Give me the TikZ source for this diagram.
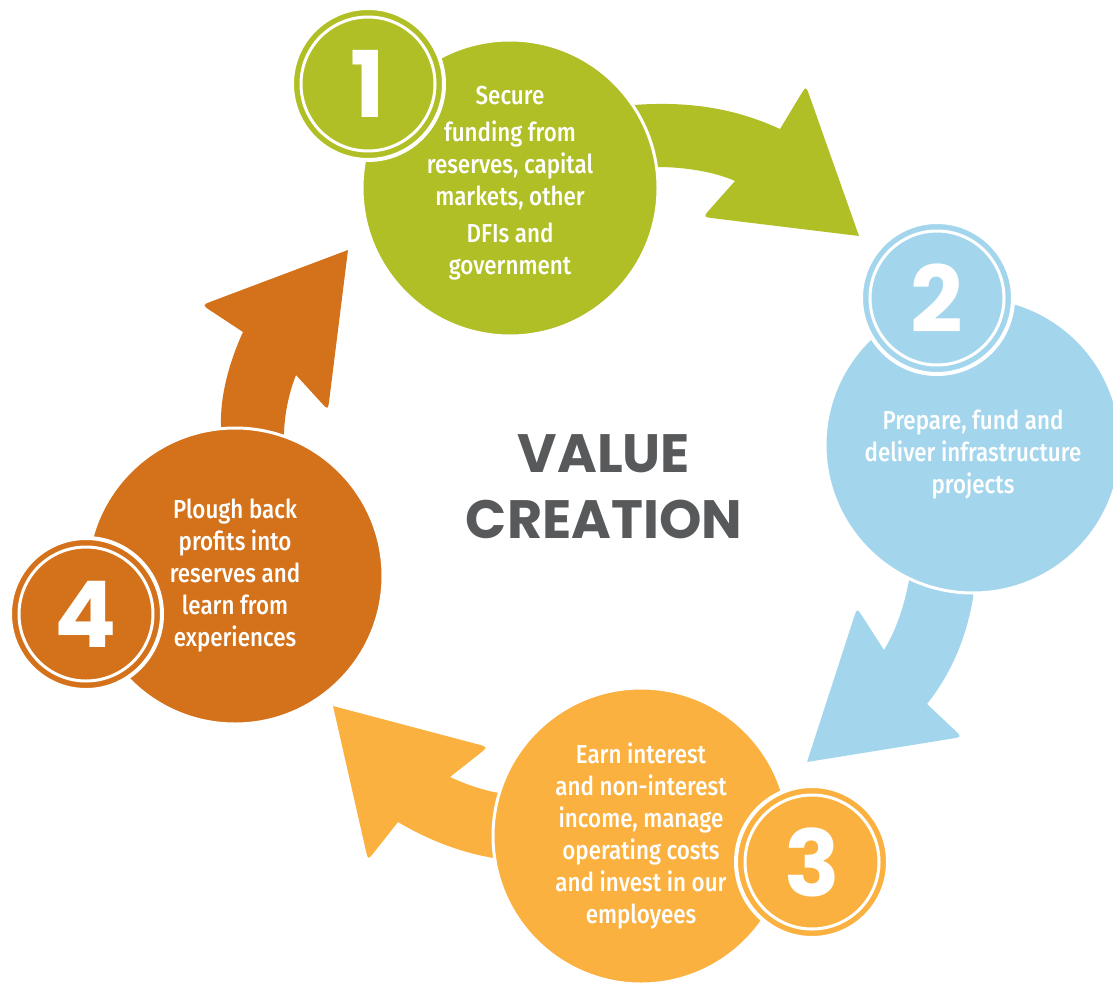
\documentclass[tikz,border=0pt]{standalone}
\usepackage{fontspec}
\usetikzlibrary{calc}
\newfontfamily\bodyfont{Fira Sans}[UprightFont={* Medium},FakeStretch=0.86]
\newfontfamily\numfont{Poppins}
\definecolor{lime}{HTML}{B0BF26}
\definecolor{sky}{HTML}{A3D6ED}
\definecolor{amber}{HTML}{FBB140}
\definecolor{rust}{HTML}{D4721B}
\definecolor{slate}{HTML}{58595B}

\begin{document}
\begin{tikzpicture}[x=1pt,y=-1pt,
  stage/.style={circle,minimum size=296pt,inner sep=0pt,draw=white,line width=3pt,
    text=white,align=center,font=\bodyfont\fontsize{26}{32}\selectfont},
  badge/.style={circle,minimum size=152pt,inner sep=0pt,draw=white,line width=4pt,
    text=white,font=\numfont\bfseries\fontsize{92}{92}\selectfont},
  ring/.style={white,line width=3pt}]

\useasboundingbox (0,0) rectangle (1113,982);

% arrows between the stages
\fill[lime] (600,112) -- (634,105) .. controls (700,100) and (745,113) .. (780,129)
  -- ($(806,86)!11pt!(780,129)$) .. controls (806,86) .. ($(806,86)!11pt!(859,236)$)
  -- (859,236)
  -- ($(703,217)!11pt!(859,236)$) .. controls (703,217) .. ($(703,217)!11pt!(735,181)$)
  -- (735,181) .. controls (715,172) and (685,167) .. (658,167) -- (600,170) -- cycle;

\fill[sky] (915,555) -- (908,585) .. controls (903,610) and (895,632) .. (884,650)
  -- ($(857,608)!11pt!(884,650)$) .. controls (857,608) .. ($(857,608)!11pt!(807,762)$)
  -- (807,762)
  -- ($(962,737)!11pt!(807,762)$) .. controls (962,737) .. ($(962,737)!11pt!(927,704)$)
  -- (927,704) .. controls (950,675) and (966,640) .. (973,598) -- (977,560) -- cycle;

\fill[amber] (530,793) -- (499,793) .. controls (482,790) and (465,784) .. (450,777)
  -- ($(488,747)!11pt!(450,777)$) .. controls (488,747) .. ($(488,747)!11pt!(333,706)$)
  -- (333,706)
  -- ($(368,860)!11pt!(333,706)$) .. controls (368,860) .. ($(368,860)!11pt!(398,822)$)
  -- (398,822) .. controls (428,840) and (462,853) .. (494,858) -- (530,862) -- cycle;

\fill[rust] (223,460) -- (221,425) .. controls (220,395) and (230,360) .. (243,332)
  -- ($(202,305)!11pt!(243,332)$) .. controls (202,305) .. ($(202,305)!11pt!(348,250)$)
  -- (348,250)
  -- ($(328,410)!11pt!(348,250)$) .. controls (328,410) .. ($(328,410)!11pt!(296,375)$)
  -- (296,375) .. controls (290,390) and (285,410) .. (284,432) -- (283,460) -- cycle;

% stages (the rules only nudge the text up or down)
\node[stage,fill=lime] (fund) at (510,188) {Secure\\[5pt]funding from\\reserves, capital\\markets, other\\[5pt]DFIs and\\government\rule[-16pt]{0pt}{1pt}};
\node[stage,fill=sky] (deliver) at (973,445) {\rule{0pt}{38pt}Prepare, fund and\\deliver infrastructure\\projects};
\node[stage,fill=amber] (earn) at (641,836) {Earn interest\\and non-interest\\income, manage\\operating costs\\and invest in our\\employees};
\node[stage,fill=rust] (plough) at (235,576) {Plough back\\profits into\\reserves and\\learn from\\experiences};

% numbers
\node[badge,fill=lime] (one) at (368,84) {1};
\draw[ring] (one.center) circle[radius=67pt];
\node[badge,fill=sky] (two) at (937,298) {2};
\draw[ring] (two.center) circle[radius=67pt];
\node[badge,fill=amber] (three) at (812,862) {3};
\draw[ring] (three.center) circle[radius=67pt];
\node[badge,fill=rust] (four) at (86,614) {4};
\draw[ring] (four.center) circle[radius=67pt];

\node[text=slate,align=center,font=\numfont\bfseries\fontsize{54}{66}\selectfont] (title) at (604,487) {VALUE\\CREATION};
\end{tikzpicture}
\end{document}
